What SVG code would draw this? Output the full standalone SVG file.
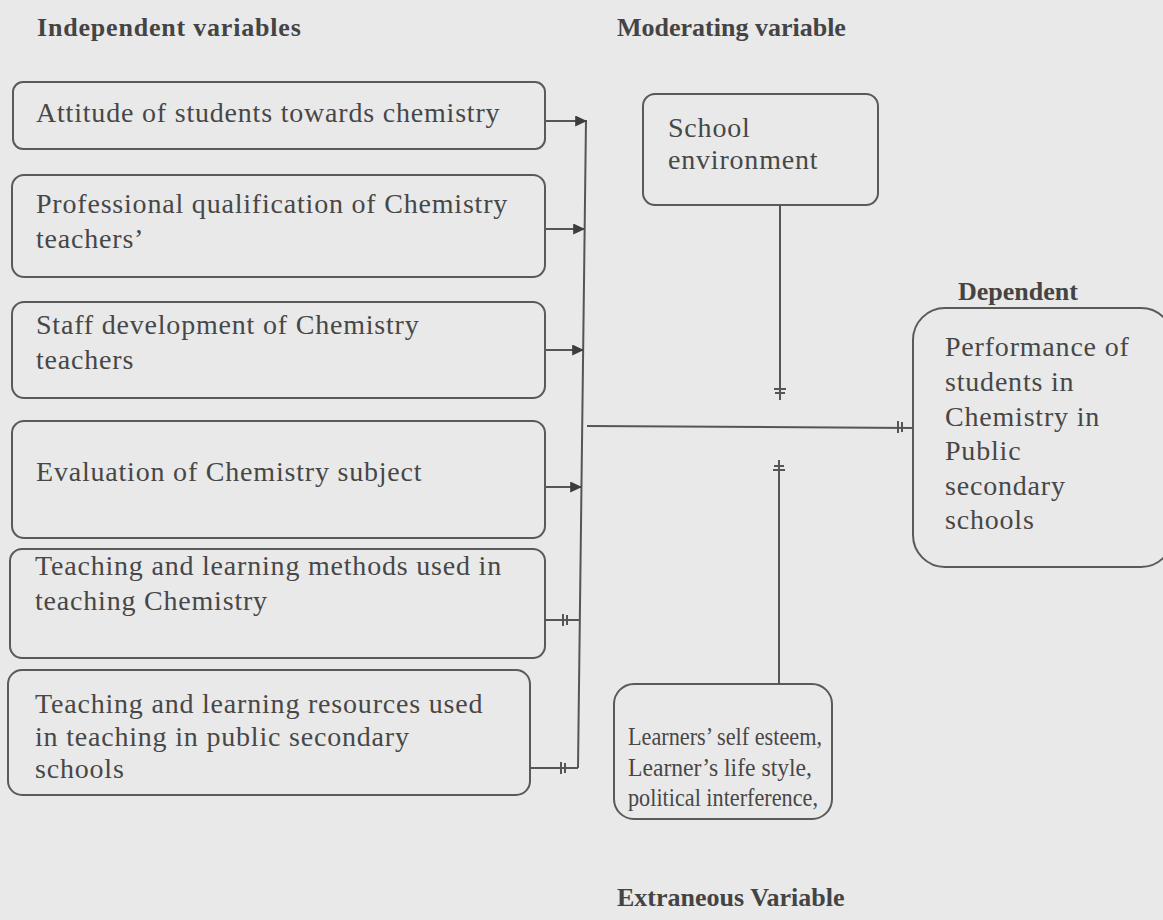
<svg xmlns="http://www.w3.org/2000/svg" width="1163" height="920" viewBox="0 0 1163 920">
<defs>
<style>
.bg{fill:#e9e9e9}
.box{fill:none;stroke:#5a5a5a;stroke-width:2}
.t{font-family:"Liberation Serif","Times New Roman",serif;font-size:28px;letter-spacing:0.8px;fill:#474747}
.s{font-family:"Liberation Serif","Times New Roman",serif;font-size:25px;fill:#474747}
.h{font-family:"Liberation Serif","Times New Roman",serif;font-size:26px;font-weight:bold;fill:#444}
.ln{fill:none;stroke:#555;stroke-width:2}
</style>
<marker id="arr" viewBox="0 0 10 10" refX="9" refY="5" markerWidth="12" markerHeight="11" markerUnits="userSpaceOnUse" orient="auto" preserveAspectRatio="none">
<path d="M0,0 L10,5 L0,10 z" fill="#3d3d3d"/>
</marker>
</defs>
<rect class="bg" x="0" y="0" width="1163" height="920"/>
<text class="h" x="37" y="36" letter-spacing="0.8">Independent variables</text>
<text class="h" x="617" y="36">Moderating variable</text>
<text class="h" x="958" y="300">Dependent</text>
<text class="h" x="617" y="906">Extraneous Variable</text>

<g id="n1"><rect class="box" x="13" y="82" width="532" height="67" rx="10"/>
<text class="t" x="36" y="122">Attitude of students towards chemistry</text></g>
<g id="n2"><rect class="box" x="12" y="175" width="533" height="102" rx="12"/>
<text class="t" x="36" y="213">Professional qualification of Chemistry</text>
<text class="t" x="36" y="248">teachers’</text></g>
<g id="n3"><rect class="box" x="12" y="302" width="533" height="96" rx="12"/>
<text class="t" x="36" y="334">Staff development of Chemistry</text>
<text class="t" x="36" y="369">teachers</text></g>
<g id="n4"><rect class="box" x="12" y="421" width="533" height="117" rx="12"/>
<text class="t" x="36" y="481">Evaluation of Chemistry subject</text></g>
<g id="n5"><rect class="box" x="10" y="549" width="535" height="109" rx="12"/>
<text class="t" x="35" y="575">Teaching and learning methods used in</text>
<text class="t" x="35" y="610">teaching Chemistry</text></g>
<g id="n6"><rect class="box" x="8" y="670" width="522" height="125" rx="14"/>
<text class="t" x="35" y="713">Teaching and learning resources used</text>
<text class="t" x="35" y="746">in teaching in public secondary</text>
<text class="t" x="35" y="778">schools</text></g>
<g id="mod"><rect class="box" x="643" y="94" width="235" height="111" rx="12"/>
<text class="t" x="668" y="137">School</text>
<text class="t" x="668" y="169">environment</text></g>
<g id="dep"><rect class="box" x="913" y="308" width="260" height="259" rx="32"/>
<text class="t" x="945" y="356">Performance of</text>
<text class="t" x="945" y="391">students in</text>
<text class="t" x="945" y="426">Chemistry in</text>
<text class="t" x="945" y="460">Public</text>
<text class="t" x="945" y="495">secondary</text>
<text class="t" x="945" y="529">schools</text></g>
<g id="ext"><rect class="box" x="614" y="684" width="218" height="135" rx="20"/>
<text class="s" x="628" y="745" textLength="194" lengthAdjust="spacingAndGlyphs">Learners’ self esteem,</text>
<text class="s" x="628" y="776" textLength="184" lengthAdjust="spacingAndGlyphs">Learner’s life style,</text>
<text class="s" x="628" y="806" textLength="190" lengthAdjust="spacingAndGlyphs">political interference,</text></g>

<g id="connectors">
<line class="ln" x1="586" y1="120" x2="578" y2="768"/>
<line class="ln" x1="546" y1="121" x2="586" y2="121" marker-end="url(#arr)"/>
<line class="ln" x1="546" y1="229" x2="584" y2="229" marker-end="url(#arr)"/>
<line class="ln" x1="546" y1="350" x2="583" y2="350" marker-end="url(#arr)"/>
<line class="ln" x1="546" y1="487" x2="581" y2="487" marker-end="url(#arr)"/>
<line class="ln" x1="545" y1="620" x2="580" y2="620"/>
<line class="ln" x1="530" y1="768" x2="578" y2="768"/>
<path class="ln" d="M563,614 L563,626 M567,615 L567,625"/>
<path class="ln" d="M561,762 L561,774 M565,763 L565,773"/>
<line class="ln" x1="587" y1="426" x2="913" y2="428"/>
<path class="ln" d="M898,421 L898,433 M902,422 L902,432"/>
<line class="ln" x1="780" y1="205" x2="780" y2="400"/>
<path class="ln" d="M774,389 L786,389 M775,393 L785,393"/>
<line class="ln" x1="779" y1="684" x2="779" y2="460"/>
<path class="ln" d="M773,470 L785,470 M774,466 L784,466"/>
</g>
</svg>
